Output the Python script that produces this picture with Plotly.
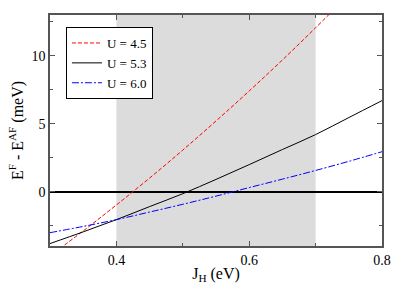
import plotly.graph_objects as go

jh = [0.30, 0.35, 0.40, 0.45, 0.50, 0.55, 0.60, 0.65, 0.70, 0.75, 0.80]
e_u45 = [-4.73, -2.89, -0.98, 1.00, 3.06, 5.20, 7.41, 9.69, 12.06, 14.5, 17.0]
e_u53 = [-3.82, -2.96, -2.06, -1.10, -0.15, 0.90, 1.99, 3.10, 4.20, 5.45, 6.70]
e_u60 = [-3.02, -2.56, -2.06, -1.50, -0.93, -0.33, 0.30, 0.92, 1.56, 2.23, 2.94]
labels = ["U = 4.5", "U = 5.3", "U = 6.0"]
colors = ["#ff0000", "#000000", "#0000ff"]
dashes = ["4px,2px", "solid", "7px,2px,2px,2px"]
shade = [0.4, 0.7]

fig = go.Figure()
for y, name, c, d in zip([e_u45, e_u53, e_u60], labels, colors, dashes):
    fig.add_trace(go.Scatter(x=jh, y=y, mode="lines", name=name,
                             line=dict(color=c, width=1, dash=d, shape="spline")))

fig.add_shape(type="rect", xref="x", yref="paper", x0=shade[0], x1=shade[1], y0=0, y1=1,
              fillcolor="#dcdcdc", line=dict(width=0), layer="below")

font = "'Liberation Serif', 'Times New Roman', serif"
fig.update_layout(
    width=399, height=286,
    margin=dict(l=50, r=17, t=15, b=40),
    paper_bgcolor="white", plot_bgcolor="white",
    font=dict(family=font, size=14, color="black"),
    showlegend=True,
    legend=dict(x=0.048, y=0.948, xanchor="left", yanchor="top",
                bgcolor="white", bordercolor="black", borderwidth=1,
                font=dict(family=font, size=13), tracegroupgap=0,
                itemwidth=30),
    xaxis=dict(range=[0.3, 0.8], tick0=0.4, dtick=0.2, ticks="inside", ticklen=5,
               tickcolor="#555", showline=True, linecolor="#555", linewidth=1.5,
               mirror="ticks", showgrid=False, zeroline=False, automargin=False,
               ticklabeloverflow="allow",
               minor=dict(dtick=0.1, tick0=0.3, ticks="inside", ticklen=3, tickcolor="#555"),
               tickfont=dict(family=font, size=14),
               title=dict(text="J<sub>H</sub> (eV)", font=dict(family=font, size=16), standoff=1)),
    yaxis=dict(range=[-4, 13], tick0=0, dtick=5, ticks="inside", ticklen=5,
               tickcolor="#555", showline=True, linecolor="#555", linewidth=1.5,
               mirror="ticks", showgrid=False, zeroline=True, zerolinecolor="black",
               zerolinewidth=1.5, automargin=False,
               minor=dict(dtick=2.5, tick0=0, ticks="inside", ticklen=3, tickcolor="#555"),
               tickfont=dict(family=font, size=14),
               title=dict(text="E<sup>F</sup> - E<sup>AF</sup> (meV)", font=dict(family=font, size=16), standoff=4)),
)
fig.write_html("out.html", config={"displayModeBar": False},
               post_script="document.body.style.margin='0';document.body.style.padding='0';")
